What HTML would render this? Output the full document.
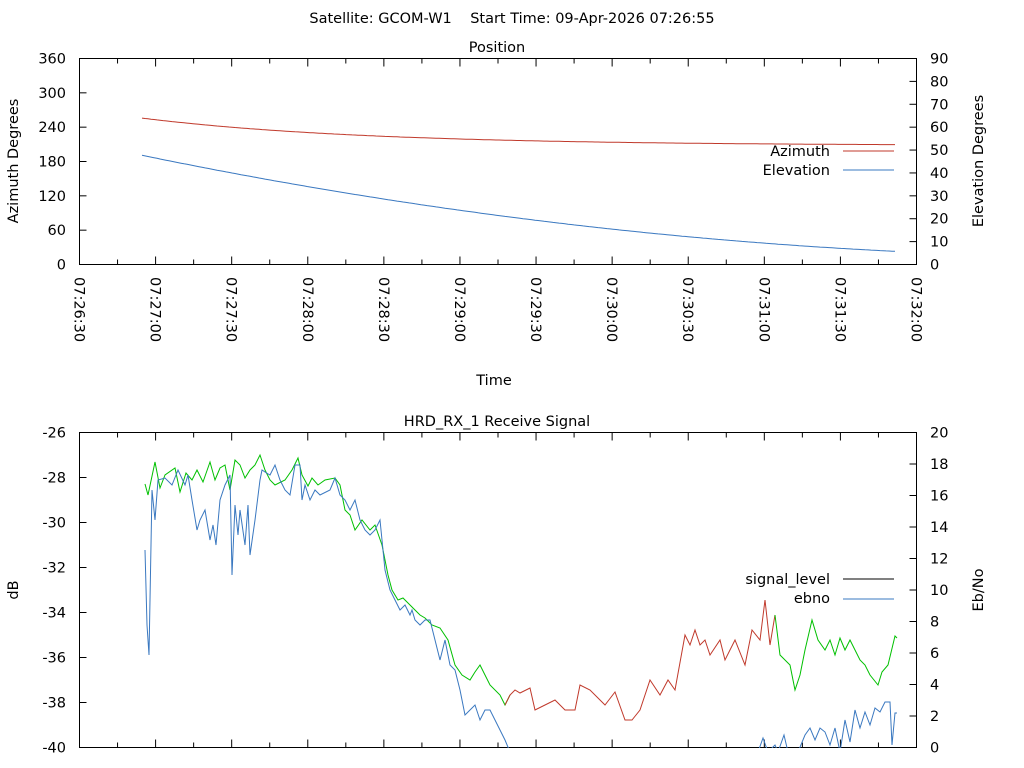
<!DOCTYPE html>
<html><head><meta charset="utf-8"><style>
html,body{margin:0;padding:0;background:#fff}
svg{display:block;font-family:"DejaVu Sans","Liberation Sans",sans-serif;font-size:14.5px}
</style></head><body>
<svg id="s" width="1024" height="768" xmlns="http://www.w3.org/2000/svg">
<defs>
<clipPath id="cb"><rect x="79" y="432" width="838" height="316"/></clipPath>
</defs>
<text x="512" y="23" text-anchor="middle" style="white-space:pre" xml:space="preserve">Satellite: GCOM-W1    Start Time: 09-Apr-2026 07:26:55</text>
<text x="497" y="52" text-anchor="middle">Position</text>
<text x="497" y="426" text-anchor="middle">HRD_RX_1 Receive Signal</text>
<text x="494" y="385" text-anchor="middle">Time</text>
<text transform="translate(18,161) rotate(-90)" text-anchor="middle">Azimuth Degrees</text>
<text transform="translate(983,161) rotate(-90)" text-anchor="middle">Elevation Degrees</text>
<text transform="translate(18,590) rotate(-90)" text-anchor="middle">dB</text>
<text transform="translate(983,590) rotate(-90)" text-anchor="middle">Eb/No</text>
<g id="g"></g>
<text x="830" y="156" text-anchor="end">Azimuth</text>
<line x1="843" y1="151" x2="894" y2="151" stroke="#c0392b" stroke-width="1"/>
<text x="830" y="175" text-anchor="end">Elevation</text>
<line x1="843" y1="170" x2="894" y2="170" stroke="#3a78c0" stroke-width="1"/>
<text x="830" y="584" text-anchor="end">signal_level</text>
<line x1="843" y1="579" x2="894" y2="579" stroke="#000" stroke-width="1"/>
<text x="830" y="603" text-anchor="end">ebno</text>
<line x1="843" y1="599" x2="894" y2="599" stroke="#3a78c0" stroke-width="1"/>
</svg>
<script>
var g=document.getElementById('g'),h='';
function L(x1,y1,x2,y2,c){h+='<line x1="'+x1+'" y1="'+y1+'" x2="'+x2+'" y2="'+y2+'" stroke="'+(c||'#000')+'" stroke-width="1"/>';}
function T(x,y,t,a){h+='<text x="'+x+'" y="'+y+'" text-anchor="'+a+'">'+t+'</text>';}
var X0=79.5,X1=916.5;
function frame(t,b){h+='<rect x="'+X0+'" y="'+t+'" width="'+(X1-X0)+'" height="'+(b-t)+'" fill="none" stroke="#000"/>';
 for(var i=0;i<=22;i++){var x=X0+i*(X1-X0)/22;var l=(i%2==0)?8:5;L(x,b,x,b-l);L(x,t,x,t+l);}}
var t1=58.5,b1=264.5;frame(t1,b1);
for(var i=0;i<=6;i++){var y=b1-i*(b1-t1)/6;L(X0,y,X0+7,y);T(66,y+5,i*60,'end');}
for(var i=0;i<=9;i++){var y=b1-i*(b1-t1)/9;L(X1,y,X1-7,y);T(930,y+5,i*10,'start');}
var labs=['07:26:30','07:27:00','07:27:30','07:28:00','07:28:30','07:29:00','07:29:30','07:30:00','07:30:30','07:31:00','07:31:30','07:32:00'];
for(var i=0;i<12;i++){var x=X0+i*(X1-X0)/11;h+='<text transform="translate('+(x-5)+',277) rotate(90)">'+labs[i]+'</text>';}
var t2=432.5,b2=747.5;frame(t2,b2);
for(var i=0;i<=7;i++){var y=b2-i*(b2-t2)/7;L(X0,y,X0+7,y);T(66,y+5,-40+2*i,'end');}
for(var i=0;i<=10;i++){var y=b2-i*(b2-t2)/10;L(X1,y,X1-7,y);T(930,y+5,i*2,'start');}
var az='',el='';
for(var x=142;x<=897;x+=3){var u=(x-142)/755;var a=207+48*Math.exp(-3.4*u);var e=47.5-68*u+26*u*u;
 az+=(az?' L':'M')+x+','+(264-a*206/360).toFixed(1);el+=(el?' L':'M')+x+','+(264-e*206/90).toFixed(1);}
h+='<path d="'+az+'" fill="none" stroke="#c0392b"/>';
h+='<path d="'+el+'" fill="none" stroke="#3a78c0"/>';
var e=[145,484,148,495,155,462,160,488,165,475,175,468,180,492,186,473,192,480,197,470,203,482,210,462,215,480,220,468,225,465,230,490,235,460,240,465,245,478,250,470,255,465,260,455,265,470,270,480,275,485,285,480,292,470,298,458,302,475,308,486,312,478,318,485,325,480,335,478,340,485,345,510,350,515,355,530,362,520,370,530,375,525,382,545,388,575,392,590,398,600,403,598,410,605,415,610,420,615,425,618,432,625,440,628,448,640,455,665,462,675,470,680,475,672,480,665,485,675,490,685,500,695,505,705,510,695,515,690,520,693,530,688,535,710,545,705,555,700,565,710,575,710,580,685,590,690,600,700,605,705,615,692,625,720,632,720,640,710,650,680,660,695,668,680,675,690,685,635,690,645,695,630,700,645,705,640,710,655,720,640,725,660,735,640,745,665,752,630,760,640,765,600,770,645,775,615,780,655,790,665,795,690,800,675,805,650,812,620,818,640,825,650,830,640,835,655,840,638,845,650,850,640,855,650,860,660,865,665,870,675,878,685,882,672,888,665,895,636,897,638];
function pth(a,from,to){var d='';for(var i=0;i<a.length;i+=2){if(a[i]<from||a[i]>to)continue;d+=(d?' L':'M')+a[i]+','+a[i+1];}return d;}
h+='<path d="'+pth(e,140,510)+'" fill="none" stroke="#00c000"/>';
h+='<path d="'+pth(e,505,775)+'" fill="none" stroke="#c0392b"/>';
h+='<path d="'+pth(e,775,900)+'" fill="none" stroke="#00c000"/>';
var s=[145,550,147,625,149,655,150,600,152,490,155,520,158,480,165,478,172,485,178,470,185,485,188,475,192,500,197,530,200,520,205,510,210,540,213,525,216,545,220,500,225,485,230,475,232,575,235,505,238,535,240,510,245,545,248,505,250,555,255,520,260,480,262,470,265,472,270,475,275,465,280,480,285,490,290,495,295,465,300,465,302,500,305,485,310,500,315,490,320,495,330,490,335,478,340,495,345,500,350,510,355,500,360,520,365,530,370,535,375,530,380,520,385,570,390,590,395,600,400,610,405,605,410,615,412,610,415,620,420,625,425,620,430,620,435,640,440,660,445,640,450,665,455,670,460,690,465,715,470,710,475,705,480,720,485,710,490,710,495,720,500,730,505,740,510,752];
var s2=[758,752,763,738,768,752,775,745,778,752,784,735,788,752,798,752,805,735,810,728,815,740,820,728,825,732,830,745,835,728,840,752,845,720,850,742,855,710,860,728,865,712,870,725,875,708,880,712,885,702,890,702,892,745,895,713,897,713];
h+='<g clip-path="url(#cb)"><path d="'+pth(s,0,999)+'" fill="none" stroke="#3a78c0"/><path d="'+pth(s2,0,999)+'" fill="none" stroke="#3a78c0"/></g>';
g.innerHTML=h;
</script>
</body></html>
